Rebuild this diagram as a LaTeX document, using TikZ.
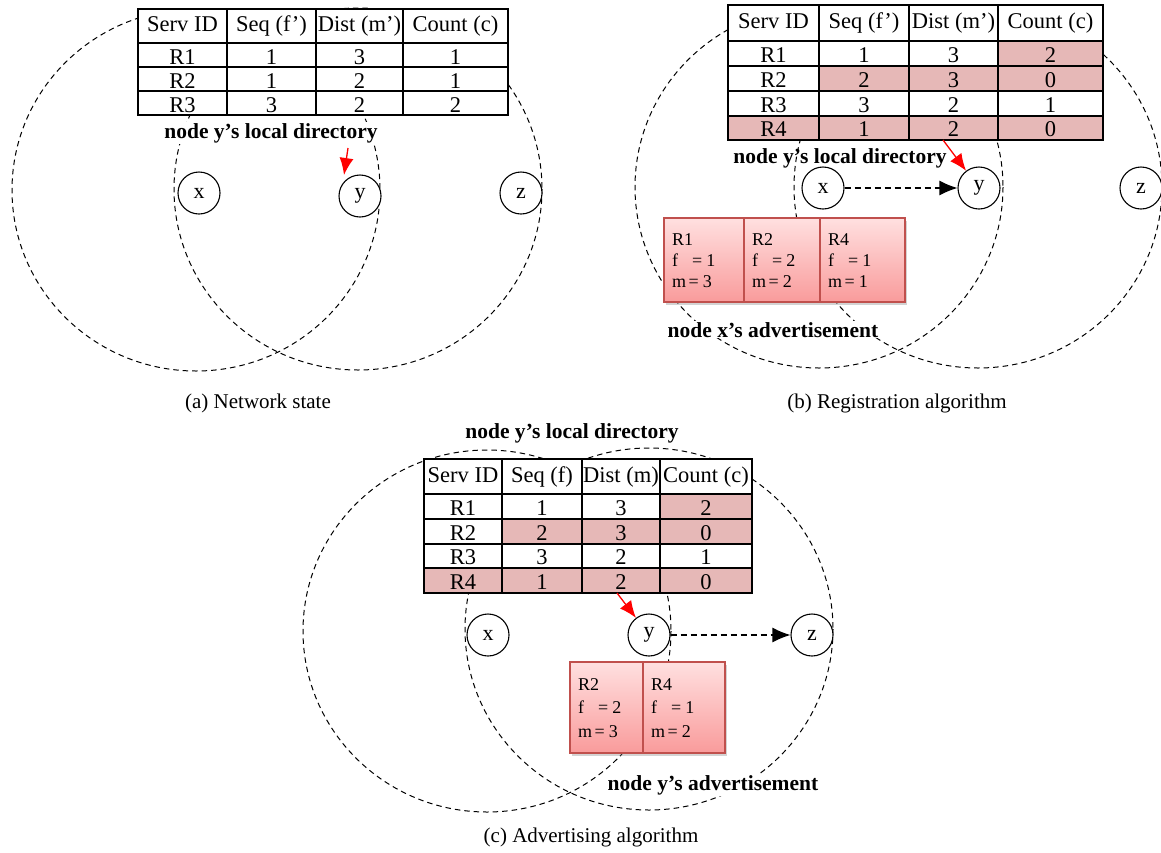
\documentclass[tikz,border=0pt]{standalone}
\usepackage{fontspec}
\setmainfont{Liberation Serif}
\usetikzlibrary{arrows.meta,shadows}
\definecolor{hl}{HTML}{E6B8B7}
\definecolor{adtop}{RGB}{255,224,224}
\definecolor{adbot}{RGB}{249,155,155}
\definecolor{adborder}{HTML}{C0504D}
\newcommand\tblrow[6]{%
  \foreach \tx/\fl [count=\ci from 0] in {#6} {
    \pgfmathsetmacro\xa{#2[\ci]}
    \pgfmathsetmacro\xb{#2[\ci+1]}
    \draw[cellframe, fill=\fl] (\xa,#3) rectangle (\xb,#4);
    \node[celltext] (#1-\ci) at ({(\xa+\xb)/2},{#4-#5}) {\tx};
  }}
\begin{document}
\begin{tikzpicture}[x=1pt,y=-1pt,
  rangecirc/.style={draw=black, line width=1pt, dash pattern=on 5.5pt off 4pt},
  cellframe/.style={draw=black, line width=1.9pt},
  celltext/.style={anchor=base, inner sep=0pt, font=\fontsize{22.5}{26}\selectfont},
  peer/.style={circle, draw=black, fill=white, line width=1.1pt, minimum size=42pt, inner sep=0pt, font=\fontsize{22}{26}\selectfont},
  adcell/.style={rectangle, draw=adborder, line width=1.2pt, top color=adtop, bottom color=adbot, inner sep=0pt, drop shadow={opacity=0.35, shadow xshift=2pt, shadow yshift=-2.5pt}},
  adtext/.style={anchor=north west, align=left, inner sep=0pt, font=\fontsize{18}{21}\selectfont},
  lbl/.style={anchor=base, inner sep=1pt, font=\fontsize{21.5}{26}\selectfont\bfseries},
  captext/.style={anchor=base, inner sep=0pt, font=\fontsize{21}{26}\selectfont},
  redarrow/.style={draw=red, line width=1.3pt, -{Latex[length=17pt,width=14pt]}},
  dasharrow/.style={draw=black, line width=1.2pt, dash pattern=on 6pt off 4pt, -{Latex[length=18pt,width=15pt]}}]
\useasboundingbox (0,0) rectangle (1161,852);

% ---------- coordinates ----------
\coordinate (cxa) at (196,190); \coordinate (cya) at (358,189);
\coordinate (cxb) at (819,187); \coordinate (cyb) at (978,187);
\coordinate (cxc) at (487,631); \coordinate (cyc) at (649,629);

% ---------- range circles ----------
\draw[rangecirc] (cxa) ellipse [x radius=184, y radius=181];
\draw[rangecirc] (cya) ellipse [x radius=184, y radius=181];
\draw[rangecirc] (cxb) ellipse [x radius=184, y radius=181];
\draw[rangecirc] (cyb) ellipse [x radius=184, y radius=181];
\draw[rangecirc] (cxc) ellipse [x radius=184, y radius=181];
\draw[rangecirc] (cyc) ellipse [x radius=184, y radius=181];

% ---------- tables ----------
\def\colA{{138,227,316,403,508}}
\def\colB{{728,819,909,998,1103}}
\def\colC{{424,502,582,660,752}}

\tblrow{ta0}{\colA}{9}{43}{12}{Serv ID/white,Seq (f’)/white,Dist (m’)/white,Count (c)/white}
\tblrow{ta1}{\colA}{43}{67}{3}{R1/white,1/white,3/white,1/white}
\tblrow{ta2}{\colA}{67}{91}{3}{R2/white,1/white,2/white,1/white}
\tblrow{ta3}{\colA}{91}{115}{3}{R3/white,3/white,2/white,2/white}

\tblrow{tb0}{\colB}{5}{41}{13}{Serv ID/white,Seq (f’)/white,Dist (m’)/white,Count (c)/white}
\tblrow{tb1}{\colB}{41}{66}{3.5}{R1/white,1/white,3/white,2/hl}
\tblrow{tb2}{\colB}{66}{91}{3.5}{R2/white,2/hl,3/hl,0/hl}
\tblrow{tb3}{\colB}{91}{116}{3.5}{R3/white,3/white,2/white,1/white}
\tblrow{tb4}{\colB}{116}{140}{3.5}{R4/hl,1/hl,2/hl,0/hl}

\tblrow{tc0}{\colC}{459}{494}{12}{Serv ID/white,Seq (f)/white,Dist (m)/white,Count (c)/white}
\tblrow{tc1}{\colC}{494}{519}{3.5}{R1/white,1/white,3/white,2/hl}
\tblrow{tc2}{\colC}{519}{544}{3.5}{R2/white,2/hl,3/hl,0/hl}
\tblrow{tc3}{\colC}{544}{568}{3.5}{R3/white,3/white,2/white,1/white}
\tblrow{tc4}{\colC}{568}{593}{3.5}{R4/hl,1/hl,2/hl,0/hl}

% ---------- advertisement boxes ----------
\node[adcell, minimum width=80pt, minimum height=84pt] (adb1) at (704,260) {};
\node[adcell, minimum width=76pt, minimum height=84pt] (adb2) at (782,260) {};
\node[adcell, minimum width=85pt, minimum height=84pt] (adb3) at (862.5,260) {};
\node[adtext] (adb1t) at (672,233) {R1\\f\hspace{14pt}=\hspace{4pt}1\\m\hspace{2.5pt}=\hspace{4pt}3};
\node[adtext] (adb2t) at (752,233) {R2\\f\hspace{14pt}=\hspace{4pt}2\\m\hspace{2.5pt}=\hspace{4pt}2};
\node[adtext] (adb3t) at (828,233) {R4\\f\hspace{14pt}=\hspace{4pt}1\\m\hspace{2.5pt}=\hspace{4pt}1};

\node[adcell, minimum width=73pt, minimum height=91pt] (adc1) at (606.5,707.5) {};
\node[adcell, minimum width=82pt, minimum height=91pt] (adc2) at (684,707.5) {};
\node[adtext, font=\fontsize{18}{23.5}\selectfont] (adc1t) at (578,678) {R2\\f\hspace{14pt}=\hspace{4pt}2\\m\hspace{2.5pt}=\hspace{4pt}3};
\node[adtext, font=\fontsize{18}{23.5}\selectfont] (adc2t) at (651,678) {R4\\f\hspace{14pt}=\hspace{4pt}1\\m\hspace{2.5pt}=\hspace{4pt}2};

% ---------- labels ----------
\node[lbl, fill=white] (la) at (271,138) {node y’s local directory};
\node[lbl] (lb) at (840,163) {node y’s local directory};
\node[lbl, fill=white] (lbad) at (773,337) {node x’s advertisement};
\node[lbl] (lc) at (572,438) {node y’s local directory};
\node[lbl, fill=white] (lcad) at (713,790) {node y’s advertisement};

\node[captext] (capa) at (258,408) {(a) Network state};
\node[captext] (capb) at (897,408) {(b) Registration algorithm};
\node[captext] (capc) at (591,842) {(c) Advertising algorithm};

% ---------- peer nodes ----------
\node[peer] (nxa) at (199,193) {x};
\node[peer] (nya) at (360,196) {y};
\node[peer] (nza) at (521,193) {z};
\node[peer] (nxb) at (823,188) {x};
\node[peer] (nyb) at (979,188) {y};
\node[peer] (nzb) at (1141,188) {z};
\node[peer] (nxc) at (488,635) {x};
\node[peer] (nyc) at (649,635) {y};
\node[peer] (nzc) at (812,635) {z};

% ---------- arrows ----------
\coordinate (raT) at (348,148);
\coordinate (raH) at (344,175);
\draw[redarrow] (raT) -- (raH);
\coordinate (rbT) at (943,140);
\draw[redarrow] (rbT) -- (nyb);
\coordinate (rcT) at (617,593);
\draw[redarrow] (rcT) -- (nyc);

\draw[dasharrow] (nxb) -- (nyb);
\draw[dasharrow] (nyc) -- (nzc);
\end{tikzpicture}
\end{document}
